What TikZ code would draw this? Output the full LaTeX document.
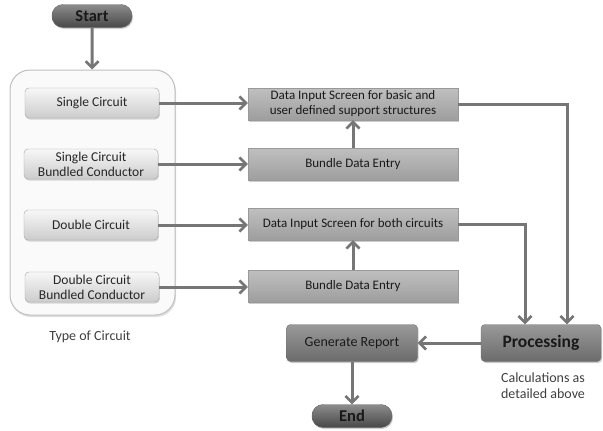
\documentclass[tikz,border=0pt]{standalone}
\usepackage{fontspec}
\setmainfont{Carlito}
\usetikzlibrary{arrows.meta,shadows}
\definecolor{linegray}{HTML}{767676}
\begin{document}
\begin{tikzpicture}[x=1pt,y=-1pt,
  flow/.style={draw=linegray,line width=3pt,-{Straight Barb[length=6.5pt,width=13pt,line width=2.6pt]}},
  pill/.style={rounded corners=11pt,draw=black!60,top color=black!45,bottom color=black!72,
    minimum width=80pt,minimum height=23pt,inner sep=0pt,font=\bfseries\fontsize{16.5}{18}\selectfont,text=black!90,
    drop shadow={shadow xshift=1pt,shadow yshift=-1.5pt,opacity=0.35}},
  choice/.style={rounded corners=4pt,draw=black!35,top color=black!3,bottom color=black!20,
    minimum width=134pt,minimum height=30pt,inner sep=1pt,align=center,font=\fontsize{13.5}{15}\selectfont,text=black!85,
    drop shadow={shadow xshift=0.8pt,shadow yshift=-1.5pt,opacity=0.3}},
  entry/.style={draw=black!40,top color=black!25,bottom color=black!38,
    minimum width=210pt,minimum height=32pt,inner sep=1pt,align=center,font=\fontsize{13}{15}\selectfont,text=black!90,
    drop shadow={shadow xshift=1.2pt,shadow yshift=-1.5pt,opacity=0.4}},
  stage/.style={rounded corners=4pt,draw=black!55,top color=black!40,bottom color=black!58,
    minimum height=37pt,align=center,text=black!90,
    drop shadow={shadow xshift=1.2pt,shadow yshift=-1.5pt,opacity=0.4}},
  caption/.style={align=center,font=\fontsize{14}{16}\selectfont,text=black!75}]
\useasboundingbox (0,0) rectangle (603,431);
\fill[white] (0,0) rectangle (603,431);

% circuit type panel
\node (panel) [rounded corners=20pt,draw=black!25,line width=1pt,fill=black!2,
  minimum width=165pt,minimum height=245pt,
  drop shadow={shadow xshift=1pt,shadow yshift=-2pt,opacity=0.25}] at (92.5,192.5) {};

\node (start) [pill] at (92,16) {Start};
\node (sc)   [choice] at (92,103) {Single Circuit};
\node (scbc) [choice] at (91,164) {Single Circuit\\Bundled Conductor};
\node (dc)   [choice] at (91,225) {Double Circuit};
\node (dcbc) [choice] at (92,287) {Double Circuit\\Bundled Conductor};
\node (type) [caption] at (90,337) {Type of Circuit};

% data entry column
\node (dis1) [entry] at (353,104) {Data Input Screen for basic and\\user defined support structures};
\node (bde1) [entry] at (353,164) {Bundle Data Entry};
\node (dis2) [entry] at (353,224) {Data Input Screen for both circuits};
\node (bde2) [entry] at (353,286) {Bundle Data Entry};

% processing and report
\node (proc) [stage,minimum width=120pt,font=\bfseries\fontsize{17.5}{19}\selectfont] at (541,343) {Processing};
\node (calc) [caption] at (543,386) {Calculations as\\detailed above};
\node (gen)  [stage,minimum width=131pt,font=\fontsize{14}{16}\selectfont] at (352,343) {Generate Report};
\node (end)  [pill] at (352,416) {End};

% connectors
\coordinate (c1) at (567,104);
\coordinate (c2) at (525,224);
\draw[flow] (start) -- (panel);
\draw[flow] (sc) -- (sc -| dis1.west);
\draw[flow] (scbc) -- (scbc -| bde1.west);
\draw[flow] (dc) -- (dc -| dis2.west);
\draw[flow] (dcbc) -- (dcbc -| bde2.west);
\draw[flow] (bde1) -- (dis1);
\draw[flow] (bde2) -- (dis2);
\draw[flow] (dis1.east) -- (c1) -- (c1 |- proc.north);
\draw[flow] (dis2.east) -- (c2) -- (c2 |- proc.north);
\draw[flow] (proc) -- (gen);
\draw[flow] (gen) -- (end);
\end{tikzpicture}
\end{document}
